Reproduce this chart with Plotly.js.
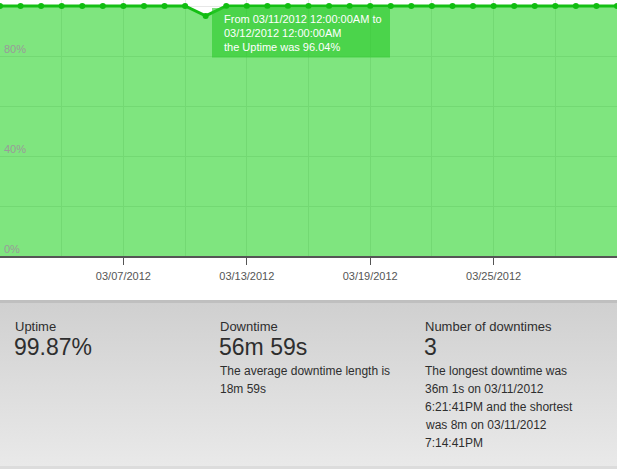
<!DOCTYPE html>
<html>
<head>
<meta charset="utf-8">
<script src="https://cdn.plot.ly/plotly-3.0.1.min.js"></script>
<style>
  html, body { margin: 0; padding: 0; background: #ffffff; }
  #wrap { position: relative; width: 617px; height: 469px; overflow: hidden; }
  #panel { position: absolute; left: 0; top: 300px; width: 617px; height: 163px;
    border-top: 3px solid #bfbfbf; border-bottom: 3px solid #dcdcdc;
    background: linear-gradient(to bottom, #d0d0d0, #e9e9e9); }
  #chart { position: absolute; left: 0; top: 0; width: 617px; height: 469px; }
</style>
</head>
<body>
<div id="wrap">
  <div id="panel"></div>
  <div id="chart"></div>
</div>
<script>
// ---- data ----
const dates = [
  '2012-03-01','2012-03-02','2012-03-03','2012-03-04','2012-03-05','2012-03-06',
  '2012-03-07','2012-03-08','2012-03-09','2012-03-10','2012-03-11','2012-03-12',
  '2012-03-13','2012-03-14','2012-03-15','2012-03-16','2012-03-17','2012-03-18',
  '2012-03-19','2012-03-20','2012-03-21','2012-03-22','2012-03-23','2012-03-24',
  '2012-03-25','2012-03-26','2012-03-27','2012-03-28','2012-03-29','2012-03-30',
  '2012-03-31'
];
const uptime = [
  100, 100, 100, 100, 100, 100,
  100, 100, 100, 100, 96.04, 100,
  100, 100, 100, 100, 100, 100,
  100, 100, 100, 100, 100, 100,
  100, 100, 100, 100, 100, 100,
  100
];
const tooltipLines = [
  'From 03/11/2012 12:00:00AM to',
  '03/12/2012 12:00:00AM',
  'the Uptime was 96.04%'
];
const statTitles = ['Uptime', 'Downtime', 'Number of downtimes'];
const statValues = ['99.87%', '56m 59s', '3'];
const statNotes = [
  [],
  ['The average downtime length is', '18m 59s'],
  ['The longest downtime was', '36m 1s on 03/11/2012', '6:21:41PM and the shortest',
   'was 8m on 03/11/2012', '7:14:41PM']
];

// ---- layout helpers (pixel -> paper) ----
const W = 617, PLOT_H = 256;
const px = x => x / W;
const py = y => (PLOT_H - y) / PLOT_H;
const FONT = 'Liberation Sans, Arial, Helvetica, sans-serif';
const DAY = 86400000;

const annotations = [];
tooltipLines.forEach((t, i) => {
  annotations.push({
    xref: 'paper', yref: 'paper', x: px(222), y: py(18.5 + i * 14),
    xanchor: 'left', yanchor: 'middle', showarrow: false, text: t,
    font: { family: FONT, size: 11, color: '#ffffff' }
  });
});
const colX = [14, 219, 424];
statTitles.forEach((t, i) => {
  annotations.push({
    xref: 'paper', yref: 'paper', x: px(colX[i] - 1), y: py(326.5),
    xanchor: 'left', yanchor: 'middle', showarrow: false, text: t,
    font: { family: FONT, size: 13, color: '#2e2e2e' }
  });
  annotations.push({
    xref: 'paper', yref: 'paper', x: px(colX[i] - 2), y: py(347),
    xanchor: 'left', yanchor: 'middle', showarrow: false, text: statValues[i],
    font: { family: FONT, size: 23, color: '#2e2e2e' }
  });
  statNotes[i].forEach((n, j) => {
    annotations.push({
      xref: 'paper', yref: 'paper', x: px(colX[i] - 1), y: py(371 + j * 18),
      xanchor: 'left', yanchor: 'middle', showarrow: false, text: n,
      font: { family: FONT, size: 12, color: '#2e2e2e' }
    });
  });
});

const trace = {
  type: 'scatter', mode: 'lines+markers',
  x: dates, y: uptime,
  fill: 'tozeroy', fillcolor: 'rgba(0,204,0,0.5)',
  line: { color: '#14bf14', width: 3 },
  marker: { color: '#10bd10', size: 6 },
  hoverinfo: 'skip'
};

const layout = {
  width: 617, height: 469,
  margin: { l: 0, r: 0, t: 0, b: 469 - PLOT_H, pad: 0 },
  paper_bgcolor: 'rgba(0,0,0,0)',
  plot_bgcolor: '#ffffff',
  showlegend: false,
  font: { family: FONT },
  xaxis: {
    type: 'date',
    range: ['2012-03-01', '2012-03-31'],
    tick0: '2012-03-07', dtick: 6 * DAY,
    tickformat: '%m/%d/%Y',
    ticks: 'outside', ticklen: 7, tickwidth: 1, tickcolor: '#555555',
    ticklabelstandoff: 2,
    tickfont: { family: FONT, size: 11, color: '#555555' },
    showgrid: true, gridcolor: '#e7e7e7', gridwidth: 1,
    minor: { tick0: '2012-03-07', dtick: 3 * DAY, showgrid: true, gridcolor: '#e7e7e7', ticks: '' },
    showline: true, linecolor: '#555555', linewidth: 1.5,
    zeroline: false, fixedrange: true
  },
  yaxis: {
    range: [0, 102.4],
    tick0: 0, dtick: 40, ticksuffix: '%',
    ticks: '', ticklabelposition: 'inside top',
    ticklabelshift: 1, ticklabelstandoff: 1,
    tickfont: { family: FONT, size: 11, color: '#9a9a9a' },
    showgrid: true, gridcolor: '#e7e7e7', gridwidth: 1,
    minor: { tick0: 0, dtick: 20, showgrid: true, gridcolor: '#e7e7e7', ticks: '' },
    showline: false, zeroline: false, fixedrange: true
  },
  shapes: [{
    type: 'rect', xref: 'paper', yref: 'paper', layer: 'above',
    x0: px(212), x1: px(390), y0: py(57.5), y1: py(8),
    fillcolor: 'rgba(40,200,40,0.6)', line: { width: 0 }
  }],
  annotations: annotations
};

Plotly.newPlot('chart', [trace], layout, { displayModeBar: false, staticPlot: true });
</script>
</body>
</html>
